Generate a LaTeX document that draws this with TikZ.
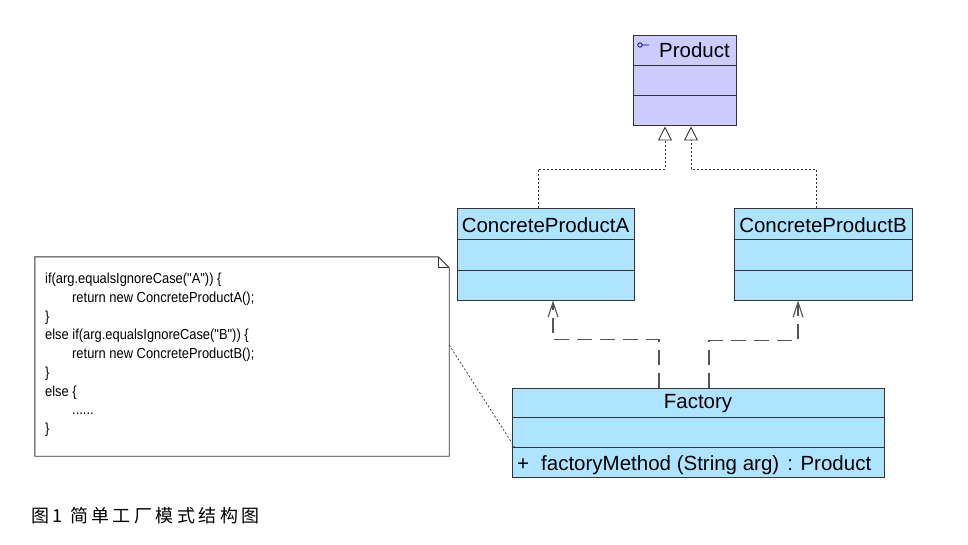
\documentclass[tikz,border=0pt]{standalone}
\usepackage{fontspec}
\setmainfont{Liberation Sans}
\newfontfamily\codefont[Ligatures=TeXOff, FakeStretch=0.89]{Liberation Sans}
\newfontfamily\cjk[LetterSpace=19]{Noto Sans CJK SC}
\usetikzlibrary{arrows.meta,calc}
\definecolor{lav}{HTML}{CCCCFF}
\definecolor{sky}{HTML}{AEE4FF}
\definecolor{edge}{HTML}{333333}
\definecolor{dep}{HTML}{555555}
\begin{document}
\begin{tikzpicture}[x=1pt,y=-1pt,
  classbox/.style={draw=edge, line width=1pt, rectangle, inner sep=0pt},
  titletext/.style={font=\fontsize{20.5}{24}\selectfont, inner sep=0pt, text=black},
  gen/.style={draw=edge, line width=0.9pt, dash pattern=on 2pt off 2pt,
    -{Triangle[open, width=14pt, length=14pt, fill=white]}},
  depline/.style={draw=dep, line width=1.1pt, dash pattern=on 15pt off 8pt,
    -{Straight Barb[length=15pt, width=10pt]}},
  notelink/.style={draw=edge, line width=0.7pt, dash pattern=on 2pt off 2pt},
]
\useasboundingbox (0,0) rectangle (968,545);
\fill[white] (0,0) rectangle (968,545);

% Product
\node[classbox, fill=lav, minimum width=103pt, minimum height=90pt] (product) at (684.5,81) {};
\draw[edge, line width=1pt] (product.west |- 0,66) -- (product.east |- 0,66);
\draw[edge, line width=1pt] (product.west |- 0,96) -- (product.east |- 0,96);
\node[titletext] (ptitle) at (694.5,50) {Product};
\draw[blue!60!black, line width=0.8pt] (640,45) circle (2.2pt) (642.2,45) -- (649,45);

% ConcreteProductA
\node[classbox, fill=sky, minimum width=177pt, minimum height=91pt] (cpa) at (545.5,254.5) {};
\draw[edge, line width=1pt] (cpa.west |- 0,240) -- (cpa.east |- 0,240);
\draw[edge, line width=1pt] (cpa.west |- 0,270) -- (cpa.east |- 0,270);
\node[titletext] (catitle) at (545.5,225) {ConcreteProductA};

% ConcreteProductB
\node[classbox, fill=sky, minimum width=178pt, minimum height=91pt] (cpb) at (823,254.5) {};
\draw[edge, line width=1pt] (cpb.west |- 0,240) -- (cpb.east |- 0,240);
\draw[edge, line width=1pt] (cpb.west |- 0,270) -- (cpb.east |- 0,270);
\node[titletext] (cbtitle) at (823,225) {ConcreteProductB};

% Factory
\node[classbox, fill=sky, minimum width=372pt, minimum height=89pt] (factory) at (698,432.5) {};
\draw[edge, line width=1pt] (factory.west |- 0,417) -- (factory.east |- 0,417);
\draw[edge, line width=1pt] (factory.west |- 0,447) -- (factory.east |- 0,447);
\node[titletext] (ftitle) at (698,404) {Factory};
\node[font=\fontsize{20.5}{24}\selectfont, inner sep=0pt, anchor=west] (fmethod) at (517,465)
  {+\hspace{12pt}factoryMethod (String arg)\hspace{8pt}: Product};

% Generalizations
\draw[gen] ([xshift=-7.5pt]cpa.north) -- ++(0,-39) -| ([xshift=-19.5pt]product.south);
\draw[gen] ([xshift=-7pt]cpb.north) -- ++(0,-39) -| ([xshift=6.5pt]product.south);

% Dependencies
\draw[depline] ([xshift=-39pt]factory.north) -- ++(0,-48) -| ([xshift=7.5pt]cpa.south);
\draw[depline] ([xshift=11pt]factory.north) -- ++(0,-47) -| ([xshift=-25pt]cpb.south);

% Note
\node[minimum width=414pt, minimum height=199pt, inner sep=0pt] (note) at (242,356.5) {};
\draw[edge, line width=0.9pt, fill=white]
  (note.north west) -- ([xshift=-11pt]note.north east) -- ([yshift=-11pt]note.north east)
  -- (note.south east) -- (note.south west) -- cycle;
\draw[edge, line width=0.8pt] ([xshift=-11pt]note.north east) -- ([xshift=-11pt,yshift=-11pt]note.north east)
  -- ([yshift=-11pt]note.north east);
\node[anchor=north west, align=left, inner sep=0pt,
  font=\codefont\fontsize{14.5}{18.75}\selectfont] (code) at (45,273) {%
if(arg.equalsIgnoreCase("A")) \{\\
\hspace*{27pt}return new ConcreteProductA();\\
\}\\
else if(arg.equalsIgnoreCase("B")) \{\\
\hspace*{27pt}return new ConcreteProductB();\\
\}\\
else \{\\
\hspace*{27pt}......\\
\}};
\draw[notelink] ([yshift=11.5pt]note.east) -- ([shift={(3pt,-14.5pt)}]factory.west);

% Caption
\node[anchor=west, inner sep=0pt, font=\cjk\fontsize{18}{20}\selectfont] (caption) at (31,516) {图1 简单工厂模式结构图};
\end{tikzpicture}
\end{document}
